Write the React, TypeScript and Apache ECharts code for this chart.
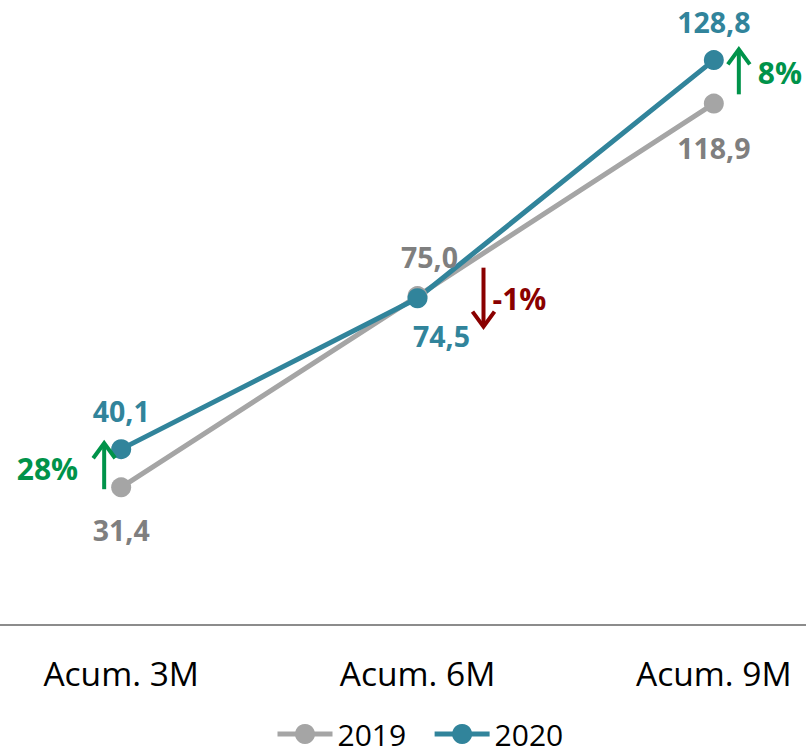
import React, { useEffect, useRef } from "react";
import * as echarts from "echarts";

const categories = ["Acum. 3M", "Acum. 6M", "Acum. 9M"];
const values2019 = [31.4, 75.0, 118.9];
const values2020 = [40.1, 74.5, 128.8];
const changeLabels = ["28%", "-1%", "8%"];

// label offsets in pixels (style / layout only)
const label2019Offsets = [[0, 43], [12, -39], [0, 44]];
const label2020Offsets = [[0, -38], [24, 38], [0, -38]];
const arrowLayout = [
  { dx: -17, dy: -2, len: 46, labelDx: -26, labelDy: 2, align: "right" },
  { dx: 66, dy: 0, len: 59, labelDx: 9, labelDy: 1, align: "left" },
  { dx: 25, dy: -10, len: 45, labelDx: 19, labelDy: 1, align: "left" },
];

const FONT = "'Open Sans', 'Noto Sans', sans-serif";
const C2019 = "#A5A5A5";
const C2019_TEXT = "#7F7F7F";
const C2020 = "#31849B";
const GREEN = "#00934A";
const RED = "#8A0000";

const fmt = (v: number) => v.toFixed(1).replace(".", ",");

export default function App() {
  const ref = useRef<HTMLDivElement>(null);
  useEffect(() => {
    if (!ref.current) return;
    const chart = echarts.init(ref.current, null, { renderer: "svg" });

    const mkData = (vals: number[], offs: number[][]) =>
      vals.map((v, i) => ({ value: v, label: { offset: offs[i] } }));

    const valueLabel = (color: string) => ({
      show: true,
      position: "inside",
      formatter: (p: any) => fmt(p.value),
      color,
      fontSize: 28.5,
      fontWeight: "bold",
      fontFamily: FONT,
    });

    const option: any = {
      animation: false,
      backgroundColor: "#fff",
      grid: {
        left: -27,
        right: -56,
        top: 11,
        bottom: 130,
        containLabel: false,
        outerBoundsMode: "none",
      },
      xAxis: {
        type: "category",
        data: categories,
        boundaryGap: true,
        axisTick: { show: false },
        axisLine: { lineStyle: { color: "#8C8C8C", width: 2 } },
        axisLabel: { color: "#000", fontSize: 33.5, fontFamily: FONT, margin: 31 },
      },
      yAxis: { type: "value", min: 0, max: 140, show: false, splitLine: { show: false } },
      legend: {
        data: ["2019", "2020"],
        left: 275,
        top: 719,
        padding: 0,
        itemWidth: 55,
        itemHeight: 25,
        itemGap: 26,
        lineStyle: { width: 5 },
        textStyle: { color: "#000", fontSize: 30, lineHeight: 26, fontFamily: FONT },
      },
      series: [
        {
          name: "2019",
          type: "line",
          data: mkData(values2019, label2019Offsets),
          symbol: "circle",
          symbolSize: 20,
          lineStyle: { color: C2019, width: 5 },
          itemStyle: { color: C2019 },
          label: valueLabel(C2019_TEXT),
        },
        {
          name: "2020",
          type: "line",
          data: mkData(values2020, label2020Offsets),
          symbol: "circle",
          symbolSize: 20,
          lineStyle: { color: C2020, width: 5 },
          itemStyle: { color: C2020 },
          label: valueLabel(C2020),
        },
        {
          name: "change",
          type: "custom",
          data: categories.map((_, i) => [
            i,
            (values2019[i] + values2020[i]) / 2,
            values2020[i] - values2019[i],
          ]),
          z: 5,
          renderItem: (params: any, api: any) => {
            const i = params.dataIndex;
            const lay = arrowLayout[i];
            const p = api.coord([api.value(0), api.value(1)]);
            const up = api.value(2) >= 0;
            const color = up ? GREEN : RED;
            const x = p[0] + lay.dx;
            const yc = p[1] + lay.dy;
            const yTip = up ? yc - lay.len / 2 : yc + lay.len / 2;
            const yTail = up ? yc + lay.len / 2 : yc - lay.len / 2;
            const hs = up ? 15 : -15;
            return {
              type: "group",
              children: [
                {
                  type: "line",
                  shape: { x1: x, y1: yTail, x2: x, y2: yTip + (up ? 1 : -1) },
                  style: { stroke: color, lineWidth: 4 },
                },
                {
                  type: "polyline",
                  shape: { points: [[x - 11, yTip + hs], [x, yTip], [x + 11, yTip + hs]] },
                  style: { stroke: color, lineWidth: 4, fill: "none" },
                },
                {
                  type: "text",
                  style: {
                    text: changeLabels[i],
                    x: x + lay.labelDx,
                    y: yc + lay.labelDy,
                    fill: color,
                    fontSize: 30,
                    fontWeight: "bold",
                    fontFamily: FONT,
                    align: lay.align,
                    verticalAlign: "middle",
                  },
                },
              ],
            };
          },
        },
      ],
    };
    chart.setOption(option);
    return () => chart.dispose();
  }, []);
  return (
    <div
      ref={ref}
      style={{ position: "fixed", left: 0, top: 0, width: 806, height: 755 }}
    />
  );
}
